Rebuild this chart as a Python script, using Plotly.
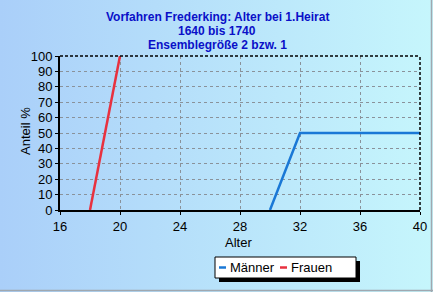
import base64
import plotly.graph_objects as go

# Data
series_names = ["Männer", "Frauen"]
maenner_x = [30, 32, 40]
maenner_y = [0, 50, 50]
frauen_x = [18, 20]
frauen_y = [0, 100]
x_ticks = [16, 20, 24, 28, 32, 36, 40]
y_ticks = [0, 10, 20, 30, 40, 50, 60, 70, 80, 90, 100]
title_lines = ["Vorfahren Frederking: Alter bei 1.Heirat", "1640 bis 1740", "Ensemblegröße 2 bzw. 1"]
x_title = "Alter"
y_title = "Anteil %"

colors = ["#1a78d6", "#e8313f"]
FONT = "Liberation Sans, Arial"

W, H = 433, 292
ml, mr, mt, mb = 60, 13, 56, 82
pw, ph = W - ml - mr, H - mt - mb

def px2x(p):
    return (p - ml) / pw

def py2y(p):
    return (H - mb - p) / ph

svg = ('<svg xmlns="http://www.w3.org/2000/svg" width="433" height="292" preserveAspectRatio="none">'
       '<defs><linearGradient id="g" x1="0" y1="0" x2="1" y2="0">'
       '<stop offset="0" stop-color="#aacff9"/><stop offset="1" stop-color="#c6f6fc"/>'
       '</linearGradient></defs><rect width="433" height="292" fill="url(#g)"/></svg>')
src = "data:image/svg+xml;base64," + base64.b64encode(svg.encode()).decode()

fig = go.Figure()
fig.add_trace(go.Scatter(x=maenner_x, y=maenner_y, mode="lines", name=series_names[0],
                         line=dict(color=colors[0], width=2.5), showlegend=False))
fig.add_trace(go.Scatter(x=frauen_x, y=frauen_y, mode="lines", name=series_names[1],
                         line=dict(color=colors[1], width=2.5), showlegend=False))

shapes = []
# dashed top/right border
shapes.append(dict(type="line", xref="paper", yref="paper", x0=0, x1=1, y0=1, y1=1,
                   line=dict(color="black", width=1.5, dash="3px,2px")))
shapes.append(dict(type="line", xref="paper", yref="paper", x0=1, x1=1, y0=0, y1=1,
                   line=dict(color="black", width=1.5, dash="3px,2px")))
# outer frame (right and bottom gray)
shapes.append(dict(type="line", xref="paper", yref="paper", x0=px2x(431.5), x1=px2x(431.5),
                   y0=py2y(292), y1=py2y(0), line=dict(color="#a0a8b0", width=1.5)))
shapes.append(dict(type="line", xref="paper", yref="paper", x0=px2x(0), x1=px2x(433),
                   y0=py2y(290.5), y1=py2y(290.5), line=dict(color="#a0a8b0", width=1.5)))

annotations = []
# title lines
for i, t in enumerate(title_lines):
    annotations.append(dict(text="<b>" + t + "</b>", xref="paper", yref="paper", x=px2x(217), y=py2y(17 + 14 * i),
                            xanchor="center", yanchor="middle", showarrow=False,
                            font=dict(family=FONT, size=12, color="#0a10c8")))
# axis titles
annotations.append(dict(text=x_title, xref="paper", yref="paper", x=px2x(238), y=py2y(242),
                        xanchor="center", yanchor="middle", showarrow=False,
                        font=dict(family=FONT, size=13, color="black")))
annotations.append(dict(text=y_title, xref="paper", yref="paper", x=px2x(25), y=py2y(131),
                        xanchor="center", yanchor="middle", showarrow=False, textangle=-90,
                        font=dict(family=FONT, size=13, color="black")))

# manual legend
lx0, lx1, ly0, ly1 = 215, 356, 257, 278
shapes.append(dict(type="rect", xref="paper", yref="paper", x0=px2x(lx0 + 4), x1=px2x(lx1 + 4),
                   y0=py2y(ly0 + 4), y1=py2y(ly1 + 4), fillcolor="black", line=dict(width=0)))
shapes.append(dict(type="rect", xref="paper", yref="paper", x0=px2x(lx0), x1=px2x(lx1),
                   y0=py2y(ly0), y1=py2y(ly1), fillcolor="white", line=dict(color="black", width=1)))
item_x = [219, 280]
for i, name in enumerate(series_names):
    shapes.append(dict(type="line", xref="paper", yref="paper", x0=px2x(item_x[i]), x1=px2x(item_x[i] + 7),
                       y0=py2y(267.5), y1=py2y(267.5), line=dict(color=colors[i], width=2.5)))
    annotations.append(dict(text=name, xref="paper", yref="paper", x=px2x(item_x[i] + 9), y=py2y(267.5),
                            xanchor="left", yanchor="middle", showarrow=False,
                            font=dict(family=FONT, size=13, color="black")))

axis_common = dict(showgrid=True, gridcolor="#8a929a", griddash="3px,3px", gridwidth=1,
                   showline=True, linecolor="black", linewidth=2, ticks="outside", ticklen=3,
                   tickcolor="black", zeroline=False, automargin=False,
                   tickfont=dict(family=FONT, size=13, color="black"))

fig.update_layout(
    width=W, height=H,
    margin=dict(l=ml, r=mr, t=mt, b=mb, autoexpand=False),
    paper_bgcolor="#b8e0fa",
    plot_bgcolor="rgba(0,0,0,0)",
    images=[dict(source=src, xref="paper", yref="paper", x=px2x(0), y=py2y(0),
                 sizex=W / pw, sizey=H / ph, sizing="stretch", layer="below",
                 xanchor="left", yanchor="top")],
    xaxis=dict(range=[16, 40], tickvals=x_ticks, ticktext=[str(v) for v in x_ticks], **axis_common),
    yaxis=dict(range=[0, 100], tickvals=y_ticks, ticktext=[str(v) for v in y_ticks], **axis_common),
    shapes=shapes,
    annotations=annotations,
    showlegend=False,
)

fig.write_html("out.html")
